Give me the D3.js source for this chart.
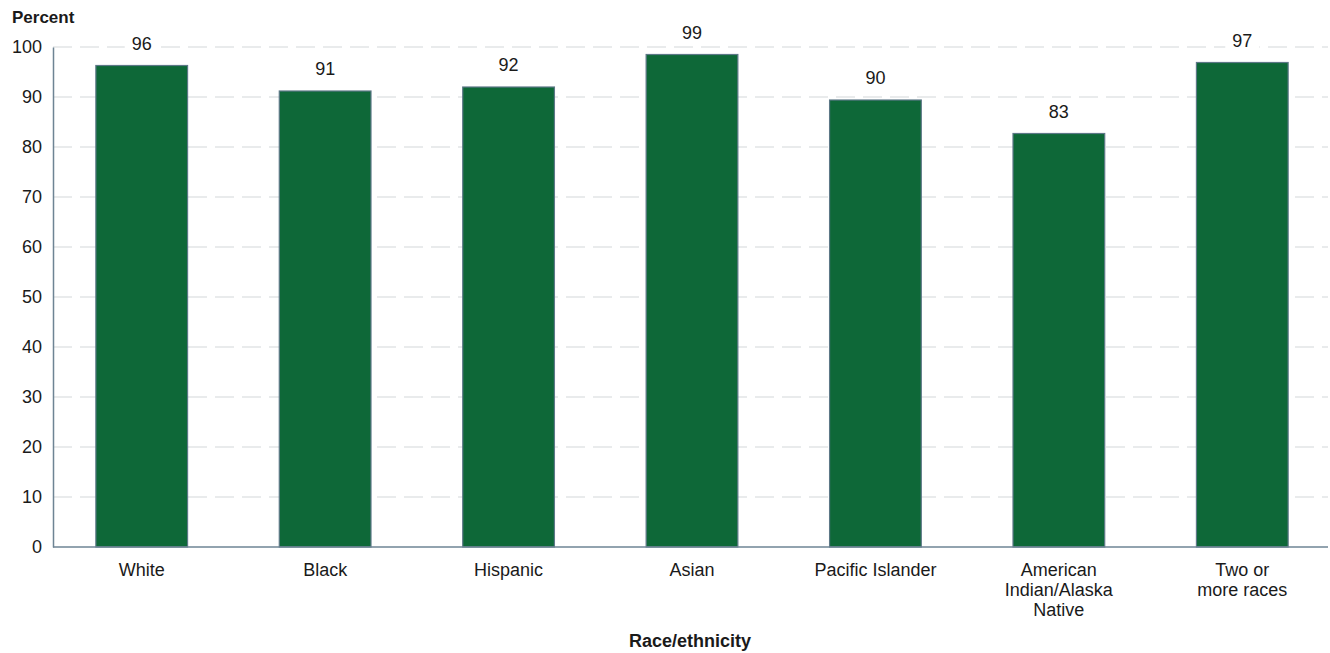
<!DOCTYPE html>
<html><head><meta charset="utf-8">
<script src="https://cdn.jsdelivr.net/npm/d3@7"></script>
<style>body{margin:0;background:#fff;}svg{display:block;font-family:"Liberation Sans",Arial,sans-serif;}</style>
</head><body><svg id="c" width="1330" height="653"></svg>
<script>
const categories = ["White","Black","Hispanic","Asian","Pacific Islander","American Indian/Alaska Native","Two or more races"];
const categoryLines = [["White"],["Black"],["Hispanic"],["Asian"],["Pacific Islander"],["American","Indian/Alaska","Native"],["Two or","more races"]];
const values = [96.3, 91.2, 92.0, 98.5, 89.4, 82.7, 96.9];
const valueLabels = ["96","91","92","99","90","83","97"];
const yTicks = [0,10,20,30,40,50,60,70,80,90,100];

const svg = d3.select("#c");
const m = {left:53, right:1328, top:47, bottom:547};
const x = d3.scaleBand().domain(categories).range([50, 1334]).paddingInner(0.5).paddingOuter(0.25);
const y = d3.scaleLinear().domain([0,100]).range([m.bottom, m.top]);
const FS = 18;

// gridlines
svg.append("g").selectAll("line").data(yTicks.filter(d=>d>0)).join("line")
  .attr("x1", m.left).attr("x2", m.right)
  .attr("y1", d=>y(d)).attr("y2", d=>y(d))
  .attr("stroke","#d3d8da").attr("stroke-width",1.2).attr("stroke-dasharray","19,8");

// y axis labels
const yAxis = d3.axisLeft(y).tickValues(yTicks).tickSize(0).tickPadding(11);
const gy = svg.append("g").attr("transform",`translate(${m.left},0)`).call(yAxis);
gy.select(".domain").attr("stroke","#6e8494").attr("stroke-width",1.5);
gy.selectAll("text").attr("font-size",FS).attr("fill","#1a1a1a").attr("font-family","Liberation Sans, Arial, sans-serif");

// bars
svg.append("g").selectAll("rect").data(values).join("rect")
  .attr("x",(d,i)=>x(categories[i])).attr("width",x.bandwidth())
  .attr("y",d=>y(d)).attr("height",d=>y(0)-y(d))
  .attr("fill","#0e6838").attr("stroke","#5d7887").attr("stroke-width",1.2);

// value labels with white background
const lg = svg.append("g").selectAll("g").data(values).join("g")
  .attr("transform",(d,i)=>`translate(${x(categories[i])+x.bandwidth()/2},${y(d)-16})`);
lg.append("rect").attr("x",-17).attr("y",-16).attr("width",34).attr("height",20).attr("fill","#fff");
lg.append("text").attr("text-anchor","middle").attr("font-size",FS).attr("fill","#1a1a1a")
  .text((d,i)=>valueLabels[i]);

// x axis line
svg.append("line").attr("x1",m.left).attr("x2",m.right).attr("y1",m.bottom).attr("y2",m.bottom)
  .attr("stroke","#6e8494").attr("stroke-width",1.5);

const xl = svg.append("g").selectAll("text").data(categories).join("text")
  .attr("text-anchor","middle").attr("font-size",FS).attr("fill","#1a1a1a")
  .attr("x",d=>x(d)+x.bandwidth()/2).attr("y",576);
xl.each(function(d,i){
  const t = d3.select(this);
  categoryLines[i].forEach((ln,j)=>{
    t.append("tspan").attr("x",x(d)+x.bandwidth()/2).attr("dy", j===0?0:20).text(ln);
  });
});

svg.append("text").attr("x",12).attr("y",23).attr("font-size",FS-1).attr("font-weight","bold").attr("fill","#1a1a1a").text("Percent");
svg.append("text").attr("x",690).attr("y",647).attr("text-anchor","middle").attr("font-size",FS).attr("font-weight","bold").attr("fill","#1a1a1a").text("Race/ethnicity");
</script></body></html>
